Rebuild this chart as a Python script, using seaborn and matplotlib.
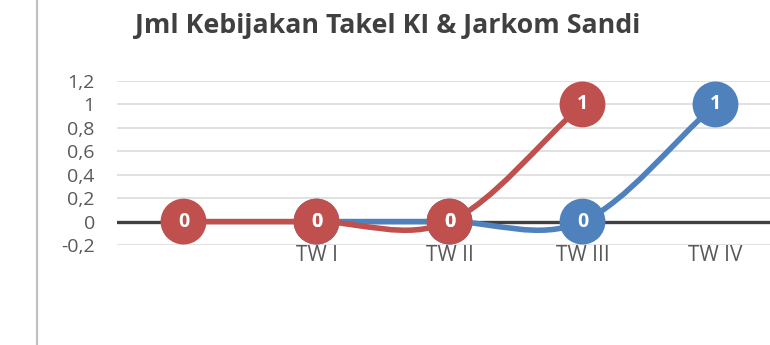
import numpy as np
import pandas as pd
import matplotlib
matplotlib.use("Agg")
import matplotlib.pyplot as plt
from matplotlib.path import Path
from matplotlib.patches import PathPatch
from matplotlib.lines import Line2D
import seaborn as sns

# Quarterly counts per series (None = no value for that quarter)
categories = ["", "TW I", "TW II", "TW III", "TW IV"]
takel_ki = [0, 0, 0, 1, None]
jarkom_sandi = [None, 0, 0, 0, 1]
y_ticks = [-0.2, 0, 0.2, 0.4, 0.6, 0.8, 1, 1.2]
y_tick_labels = ["-0,2", "0", "0,2", "0,4", "0,6", "0,8", "1", "1,2"]
title = "Jml Kebijakan Takel KI & Jarkom Sandi"

RED = "#C0504D"
BLUE = "#4F81BD"
TEXT = "#595959"

sns.set_theme(style="white")
plt.rcParams["font.family"] = ["Open Sans", "DejaVu Sans"]

rows = []
for name, vals in (("Jarkom Sandi", jarkom_sandi), ("Takel KI", takel_ki)):
    for i, v in enumerate(vals):
        if v is not None:
            rows.append({"series": name, "pos": i, "value": v})
df = pd.DataFrame(rows)

fig = plt.figure(figsize=(7.7, 3.45), dpi=100)
ax = fig.add_axes([117 / 770, 1 - 245 / 345, 665 / 770, (245 - 81) / 345])


def smooth_path(xs, ys):
    """Cubic Bezier path through the points, tangents from neighbours."""
    p = np.column_stack([xs, ys]).astype(float)
    n = len(p)
    tang = np.zeros_like(p)
    for i in range(n):
        if 0 < i < n - 1:
            tang[i] = (p[i + 1] - p[i - 1]) / 2
        elif i == 0:
            tang[i] = (p[1] - p[0]) if n > 1 else 0
        else:
            tang[i] = p[i] - p[i - 1]
    verts = [p[0]]
    codes = [Path.MOVETO]
    for i in range(n - 1):
        verts += [p[i] + tang[i] / 3, p[i + 1] - tang[i + 1] / 3, p[i + 1]]
        codes += [Path.CURVE4] * 3
    return Path(verts, codes)


# grid and zero line
for t in y_ticks:
    if t != 0:
        ax.axhline(t, color="#d9d9d9", lw=1.1, zorder=0)
ax.axhline(0, color="#404040", lw=2.4, zorder=1)

palette = {"Jarkom Sandi": BLUE, "Takel KI": RED}
for name in ["Jarkom Sandi", "Takel KI"]:
    sub = df[df.series == name]
    path = smooth_path(sub.pos.values, sub.value.values)
    ax.add_patch(PathPatch(path, facecolor="none", edgecolor=palette[name],
                           lw=4.0, capstyle="round", zorder=2))
    sns.scatterplot(data=sub, x="pos", y="value", color=palette[name],
                    s=33 ** 2, edgecolor="none", linewidth=0, ax=ax,
                    legend=False, zorder=3)
    for _, r in sub.iterrows():
        ax.text(r.pos, r.value, f"{int(r.value)}", color="white",
                fontsize=14, fontweight="bold", ha="center", va="center",
                zorder=4)

ax.set_xlim(-0.5, 4.5)
ax.set_ylim(-0.2, 1.2)
ax.set_xticks(range(len(categories)))
ax.set_xticklabels(categories)
ax.set_yticks(y_ticks)
ax.set_yticklabels(y_tick_labels)
ax.tick_params(axis="y", length=0, pad=16, labelsize=14, labelcolor=TEXT)
ax.tick_params(axis="x", length=0, pad=0, labelsize=15, labelcolor=TEXT)
ax.set_xlabel("")
ax.set_ylabel("")
for s in ax.spines.values():
    s.set_visible(False)

fig.text(388 / 770, 1 - 33 / 345, title, ha="center", va="baseline",
         fontsize=19.3, fontweight="bold", color="#404040")
fig.add_artist(Line2D([37 / 770, 37 / 770], [0, 1], color="#c0c0c0", lw=1.6))

fig.savefig("out.png", dpi=100)
